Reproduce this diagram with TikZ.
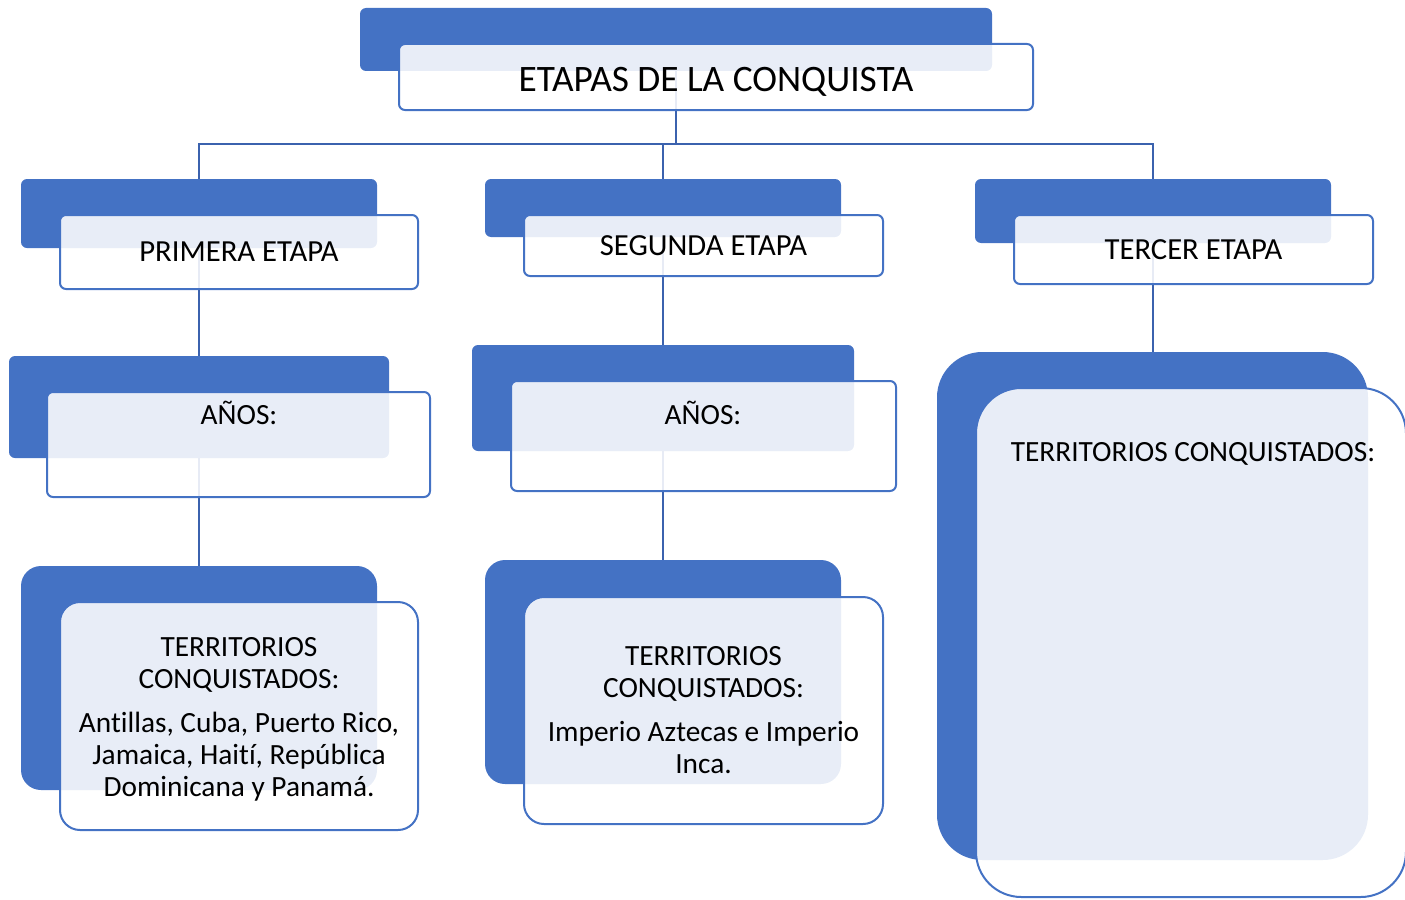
\documentclass[tikz,border=0pt]{standalone}
\usepackage{fontspec}
\setmainfont{Carlito}[Ligatures=NoCommon]
\usepackage{xcolor}
\usepackage{tikz}

\definecolor{azul}{HTML}{4472C4}
\definecolor{linea}{HTML}{3B62AE}

\begin{document}
\begin{tikzpicture}[x=0.75pt, y=-0.75pt,
    atras/.style={fill=azul, draw=none, rounded corners=4.5pt, inner sep=0pt},
    frente/.style={draw=azul, line width=1.5pt, fill=white, fill opacity=0.88,
        text opacity=1, rounded corners=4.5pt, inner sep=0pt, align=center},
    conector/.style={draw=linea, line width=1.9pt},
    tam/.style 2 args={minimum width=#1*0.75pt, minimum height=#2*0.75pt}]

    \useasboundingbox (0,0) rectangle (1405,899);

    % Blue boxes at the back
    \node[atras, tam={632}{63}] (tituloB) at (676,39.5) {};
    \foreach \n/\x/\y/\h in {primera/199/213.5/69, segunda/663/208/58, tercer/1153/211/64} {
        \node[atras, tam={356}{\h}] (\n B) at (\x,\y) {};
    }
    \node[atras, tam={380}{102}] (anos1B) at (199,407) {};
    \node[atras, tam={382}{106}] (anos2B) at (663,398) {};
    \node[atras, rounded corners=15pt, tam={356}{224}] (terr1B) at (199,678) {};
    \node[atras, rounded corners=15pt, tam={356}{224}] (terr2B) at (663,672) {};
    \node[atras, rounded corners=34pt, tam={431}{508}] (terr3B) at (1152.5,606) {};

    % Connectors
    \coordinate (barra) at (0,144);
    \draw[conector] (tituloB.south) -- (tituloB.south |- barra);
    \draw[conector] (primeraB.north) -- (primeraB.north |- barra) -- (tercerB.north |- barra) -- (tercerB.north);
    \draw[conector] (segundaB.north) -- (segundaB.north |- barra);
    \draw[conector] (primeraB.south) -- (anos1B.north);
    \draw[conector] (anos1B.south) -- (terr1B.north);
    \draw[conector] (segundaB.south) -- (anos2B.north);
    \draw[conector] (anos2B.south) -- (terr2B.north);
    \draw[conector] (tercerB.south) -- (tercerB.south |- terr3B.north);

    % White boxes in front
    \node[frente, tam={634}{66}, text height=22.5pt, text depth=0pt, font=\fontsize{28}{32}\selectfont] (titulo) at (716,77) {ETAPAS DE LA CONQUISTA};
    \node[frente, tam={358}{74}, font=\fontsize{23}{27}\selectfont] (primera) at (239,252) {PRIMERA ETAPA};
    \node[frente, tam={359}{61}, font=\fontsize{23}{27}\selectfont] (segunda) at (703.5,245.5) {SEGUNDA ETAPA};
    \node[frente, tam={359}{69}, font=\fontsize{23}{27}\selectfont] (tercer) at (1193.5,249.5) {TERCER ETAPA};
    \node[frente, tam={383}{105}] (anos1) at (238.5,444.5) {};
    \node[frente, tam={385}{110}] (anos2) at (703.5,436) {};
    \node[frente, rounded corners=15pt, tam={358}{228}, font=\fontsize{22}{24}\selectfont] (terr1) at (239,716)
        {\\[-4pt]TERRITORIOS\\ CONQUISTADOS:\\[9pt] Antillas, Cuba, Puerto Rico,\\ Jamaica, Haití, República\\ Dominicana y Panamá.};
    \node[frente, rounded corners=15pt, tam={359}{227}, font=\fontsize{22}{24}\selectfont] (terr2) at (703.5,710.5)
        {TERRITORIOS\\ CONQUISTADOS:\\[9pt] Imperio Aztecas e Imperio\\ Inca.};
    \node[frente, rounded corners=34pt, tam={430}{509}] (terr3) at (1191,642.5) {};

    % Texts near the top of the big boxes
    \node[anchor=base, font=\fontsize{22}{24}\selectfont] (anos1T) at (239,424) {AÑOS:};
    \node[anchor=base, font=\fontsize{22}{24}\selectfont] (anos2T) at (703,424) {AÑOS:};
    \node[anchor=base, font=\fontsize{22}{24}\selectfont] (terr3T) at (1193,461.5) {TERRITORIOS CONQUISTADOS:};

\end{tikzpicture}
\end{document}
